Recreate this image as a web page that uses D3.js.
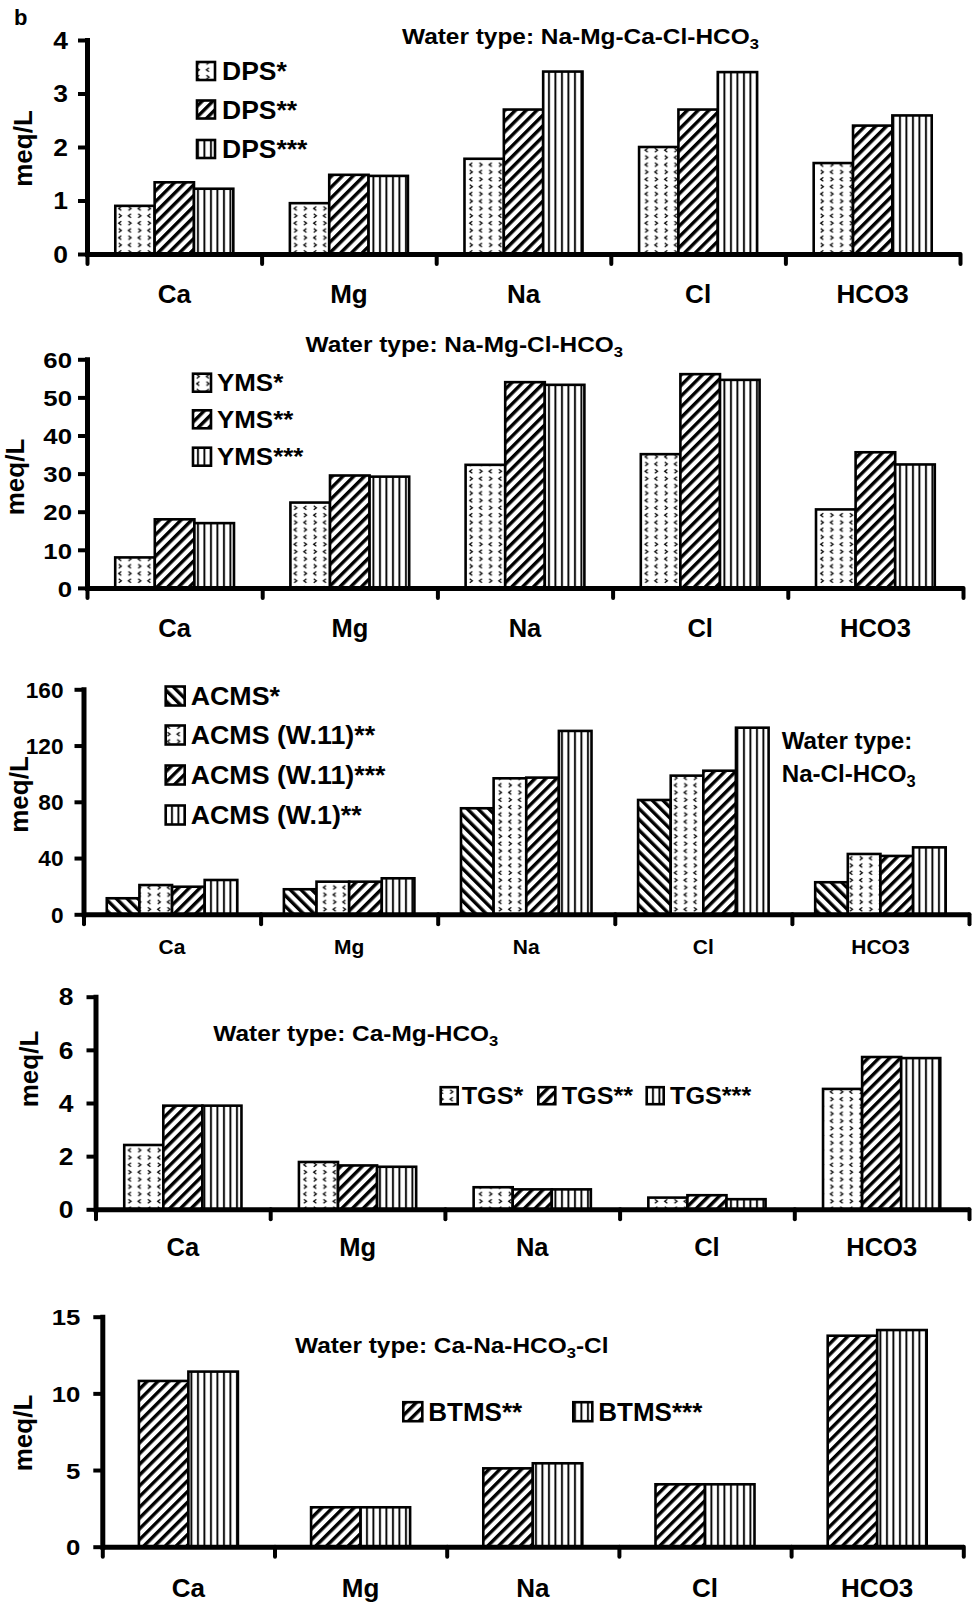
<!DOCTYPE html>
<html><head><meta charset="utf-8">
<script src="https://cdn.jsdelivr.net/npm/d3@7/dist/d3.min.js"></script>
<style>
body{margin:0;background:#fff}
svg{display:block}
text{font-family:"Liberation Sans",Arial,sans-serif;font-weight:bold;fill:#000}
</style>
</head><body>
<svg id="c" width="980" height="1607"></svg>
<script>
// ---------------- DATA ----------------
const categories = ["Ca", "Mg", "Na", "Cl", "HCO3"];

// Panel 1 – Na-Mg-Ca-Cl-HCO3
const dpsNames = ["DPS*", "DPS**", "DPS***"];
const dps1 = [0.90, 0.95, 1.78, 2.00, 1.70];
const dps2 = [1.34, 1.48, 2.70, 2.70, 2.40];
const dps3 = [1.22, 1.46, 3.41, 3.40, 2.59];
const dpsTicks = [0, 1, 2, 3, 4];

// Panel 2 – Na-Mg-Cl-HCO3
const ymsNames = ["YMS*", "YMS**", "YMS***"];
const yms1 = [8.0, 22.4, 32.3, 35.1, 20.6];
const yms2 = [18.0, 29.5, 54.0, 56.1, 35.6];
const yms3 = [17.0, 29.2, 53.3, 54.6, 32.4];
const ymsTicks = [0, 10, 20, 30, 40, 50, 60];

// Panel 3 – Na-Cl-HCO3
const acmsNames = ["ACMS*", "ACMS (W.11)**", "ACMS (W.11)***", "ACMS (W.1)**"];
const acms1 = [11.4, 17.8, 75.4, 81.3, 22.8];
const acms2 = [20.8, 23.2, 96.7, 98.6, 42.9];
const acms3 = [19.6, 23.2, 97.2, 102.1, 41.5];
const acms4 = [24.4, 25.6, 130.4, 132.7, 47.6];
const acmsTicks = [0, 40, 80, 120, 160];

// Panel 4 – Ca-Mg-HCO3
const tgsNames = ["TGS*", "TGS**", "TGS***"];
const tgs1 = [2.42, 1.78, 0.83, 0.44, 4.53];
const tgs2 = [3.90, 1.65, 0.75, 0.53, 5.73];
const tgs3 = [3.90, 1.60, 0.75, 0.38, 5.69];
const tgsTicks = [0, 2, 4, 6, 8];

// Panel 5 – Ca-Na-HCO3-Cl
const btmsNames = ["BTMS**", "BTMS***"];
const btms2 = [10.81, 2.57, 5.11, 4.07, 13.76];
const btms3 = [11.42, 2.57, 5.44, 4.07, 14.13];
const btmsTicks = [0, 5, 10, 15];

const yLabel = "meq/L";
const panelLetter = "b";

// ---------------- RENDER ----------------
const svg = d3.select("#c");
const defs = svg.append("defs");

// chevron dot pattern
const pd = defs.append("pattern").attr("id", "dots").attr("patternUnits", "userSpaceOnUse")
  .attr("width", 19.5).attr("height", 14.6);
pd.append("rect").attr("width", 19.5).attr("height", 14.6).attr("fill", "#fff");
[[3, 2.2, -1], [12.7, 2.2, 1], [3, 9.5, 1], [12.7, 9.5, -1]].forEach(([x, y, dir]) => {
  const w = 2.6 * dir;
  pd.append("path").attr("d", `M${x - w / 2},${y} l${w},1.9 l${-w},1.9`)
    .attr("fill", "none").attr("stroke", "#000").attr("stroke-width", 1.3);
});
// diagonal hatches
function hatch(id, angle) {
  const p = defs.append("pattern").attr("id", id).attr("patternUnits", "userSpaceOnUse")
    .attr("width", 7.6).attr("height", 10).attr("patternTransform", `rotate(${angle})`);
  p.append("rect").attr("width", 7.6).attr("height", 10).attr("fill", "#fff");
  p.append("rect").attr("width", 3.4).attr("height", 10).attr("fill", "#000");
}
hatch("fwd", 45);
hatch("back", -45);
// vertical lines
const pv = defs.append("pattern").attr("id", "vert").attr("patternUnits", "userSpaceOnUse")
  .attr("width", 6.5).attr("height", 10);
pv.append("rect").attr("width", 6.5).attr("height", 10).attr("fill", "#fff");
pv.append("rect").attr("x", 2).attr("width", 1.9).attr("height", 10).attr("fill", "#000");

function placeText(g, x, y, f, sx, anchor) {
  return g.append("text").attr("transform", `translate(${x},${y}) scale(${sx},1)`)
    .attr("font-size", f).attr("text-anchor", anchor || "start");
}

function writeSegs(t, segs, f) {
  let shifted = 0;
  segs.forEach(s => {
    const sp = t.append("tspan").text(s[0]);
    if (s[1]) { sp.attr("font-size", f * 0.68).attr("dy", 5); shifted = 5; }
    else if (shifted) { sp.attr("dy", -shifted); shifted = 0; }
  });
}

function drawPanel(c) {
  const g = svg.append("g");
  const y = d3.scaleLinear().domain([0, c.yMax]).range([c.y0, c.yTop]);
  const xb = d3.scaleBand().domain(categories).range([c.x0, c.x1]).padding(0);
  const bw = xb.bandwidth();
  const n = c.series.length;
  const gw = bw * c.groupFrac;
  const xs = d3.scaleBand().domain(d3.range(n)).range([(bw - gw) / 2, (bw + gw) / 2]).padding(0);

  // bars
  c.series.forEach((vals, i) => {
    g.append("g").selectAll("rect").data(vals).join("rect")
      .attr("x", (d, j) => xb(categories[j]) + xs(i))
      .attr("y", d => y(d))
      .attr("width", xs.bandwidth())
      .attr("height", d => c.y0 - y(d))
      .attr("fill", `url(#${c.patterns[i]})`)
      .attr("stroke", "#000").attr("stroke-width", 2.6);
  });

  // y axis
  const ya = g.append("g").attr("transform", `translate(${c.x0},0)`)
    .call(d3.axisLeft(y).tickValues(c.ticks).tickFormat(d3.format("d"))
      .tickSize(9).tickSizeOuter(0).tickPadding(c.tickGap - 9));
  ya.select(".domain").attr("stroke-width", 5).attr("stroke-linecap", "square");
  ya.selectAll(".tick line").attr("stroke-width", 4);
  ya.selectAll(".tick text").each(function () {
    const t = d3.select(this);
    const x = +t.attr("x");
    t.attr("x", x / c.tickSx).attr("dy", null).attr("y", 0.36 * c.tickFont)
      .attr("transform", `scale(${c.tickSx},1)`)
      .attr("font-size", c.tickFont).attr("font-family", null);
  });

  // x boundary axis
  const xl = d3.scaleLinear().domain([0, categories.length]).range([c.x0, c.x1]);
  const xa = g.append("g").attr("transform", `translate(0,${c.y0})`)
    .call(d3.axisBottom(xl).ticks(categories.length).tickSize(10).tickSizeOuter(0).tickFormat(""));
  xa.select(".domain").attr("stroke-width", 5);
  xa.selectAll(".tick line").attr("stroke-width", 4).attr("stroke-linecap", "round");

  // category labels
  const xc = g.append("g").attr("transform", `translate(0,${c.catY})`)
    .call(d3.axisBottom(xb).tickSize(0).tickPadding(0));
  xc.select(".domain").remove();
  xc.selectAll(".tick text").attr("y", 0).attr("dy", null)
    .attr("transform", `scale(${c.catSx},1)`)
    .attr("font-size", c.catFont).attr("font-family", null);

  // y label
  g.append("text").attr("transform", `translate(${c.ylab[0] + 0.26 * 26},${c.ylab[1]}) rotate(-90)`)
    .attr("text-anchor", "middle").attr("font-size", 26).text(yLabel);

  // title
  c.title.forEach(l => {
    const t = placeText(g, l.x, l.y, c.titleFont, c.titleSx, "start");
    writeSegs(t, l.segs, c.titleFont);
  });

  // legend
  c.legend.pos.forEach((p, i) => {
    const s = c.legend.size;
    g.append("rect").attr("x", p[0]).attr("y", p[1]).attr("width", s).attr("height", s)
      .attr("fill", `url(#${c.patterns[i]})`).attr("stroke", "#000").attr("stroke-width", 2.6);
    placeText(g, p[2], p[1] + s / 2 + 0.36 * c.legend.font, c.legend.font, c.legend.sx, "start")
      .text(c.names[i]);
  });
}

const panels = [
  { series: [dps1, dps2, dps3], names: dpsNames, patterns: ["dots", "fwd", "vert"],
    yMax: 4, ticks: dpsTicks, x0: 87, x1: 960, yTop: 40, y0: 254, groupFrac: 0.676,
    tickGap: 19, tickFont: 23, tickSx: 1.15, catY: 303, catFont: 26, catSx: 1.0,
    ylab: [25, 148.5], titleFont: 22, titleSx: 1.11,
    title: [{ x: 402, y: 44, segs: [["Water type: Na-Mg-Ca-Cl-HCO"], ["3", 1]] }],
    legend: { size: 18, font: 25, sx: 1.06, pos: [[197, 62, 222], [197, 100.5, 222], [197, 140, 222]] } },
  { series: [yms1, yms2, yms3], names: ymsNames, patterns: ["dots", "fwd", "vert"],
    yMax: 60, ticks: ymsTicks, x0: 87, x1: 963, yTop: 359.3, y0: 587.9, groupFrac: 0.678,
    tickGap: 15, tickFont: 23, tickSx: 1.12, catY: 636.5, catFont: 25, catSx: 1.02,
    ylab: [17.5, 477], titleFont: 22, titleSx: 1.11,
    title: [{ x: 305.5, y: 351.7, segs: [["Water type: Na-Mg-Cl-HCO"], ["3", 1]] }],
    legend: { size: 18, font: 24, sx: 1.08, pos: [[193, 373.7, 217], [193, 410.3, 217], [193, 447.7, 217]] } },
  { series: [acms1, acms2, acms3, acms4], names: acmsNames, patterns: ["back", "dots", "fwd", "vert"],
    yMax: 160, ticks: acmsTicks, x0: 83.5, x1: 969, yTop: 689.3, y0: 914.3, groupFrac: 0.737,
    tickGap: 20, tickFont: 22, tickSx: 1.03, catY: 954, catFont: 20, catSx: 1.05,
    ylab: [21.7, 794.5], titleFont: 23, titleSx: 1.05,
    title: [{ x: 781.7, y: 749.3, segs: [["Water type:"]] },
            { x: 781.7, y: 781.7, segs: [["Na-Cl-HCO"], ["3", 1]] }],
    legend: { size: 19, font: 26, sx: 1.03, pos: [[165.7, 686.5, 190.7], [165.7, 725.5, 190.7], [165.7, 765.5, 190.7], [165.7, 805.5, 190.7]] } },
  { series: [tgs1, tgs2, tgs3], names: tgsNames, patterns: ["dots", "fwd", "vert"],
    yMax: 8, ticks: tgsTicks, x0: 95.5, x1: 969, yTop: 996.7, y0: 1209.3, groupFrac: 0.671,
    tickGap: 22, tickFont: 23, tickSx: 1.15, catY: 1256, catFont: 25, catSx: 1.02,
    ylab: [31.7, 1069], titleFont: 22, titleSx: 1.11,
    title: [{ x: 213.3, y: 1040.7, segs: [["Water type: Ca-Mg-HCO"], ["3", 1]] }],
    legend: { size: 17, font: 24, sx: 1.05, pos: [[440.7, 1087.2, 461.7], [538.3, 1087.2, 561.7], [646.7, 1087.2, 670]] } },
  { series: [btms2, btms3], names: btmsNames, patterns: ["fwd", "vert"],
    yMax: 15, ticks: btmsTicks, x0: 102.3, x1: 963.3, yTop: 1316.7, y0: 1546.7, groupFrac: 0.575,
    tickGap: 22, tickFont: 23, tickSx: 1.12, catY: 1597, catFont: 26, catSx: 1.0,
    ylab: [25, 1433], titleFont: 22, titleSx: 1.11,
    title: [{ x: 295, y: 1353.3, segs: [["Water type: Ca-Na-HCO"], ["3", 1], ["-Cl"]] }],
    legend: { size: 19, font: 26, sx: 1.0, pos: [[403.3, 1402.2, 428.3], [573.3, 1402.2, 598.3]] } }
];

panels.forEach(drawPanel);

svg.append("text").attr("x", 14).attr("y", 25).attr("font-size", 22).text(panelLetter);
</script>
</body></html>
